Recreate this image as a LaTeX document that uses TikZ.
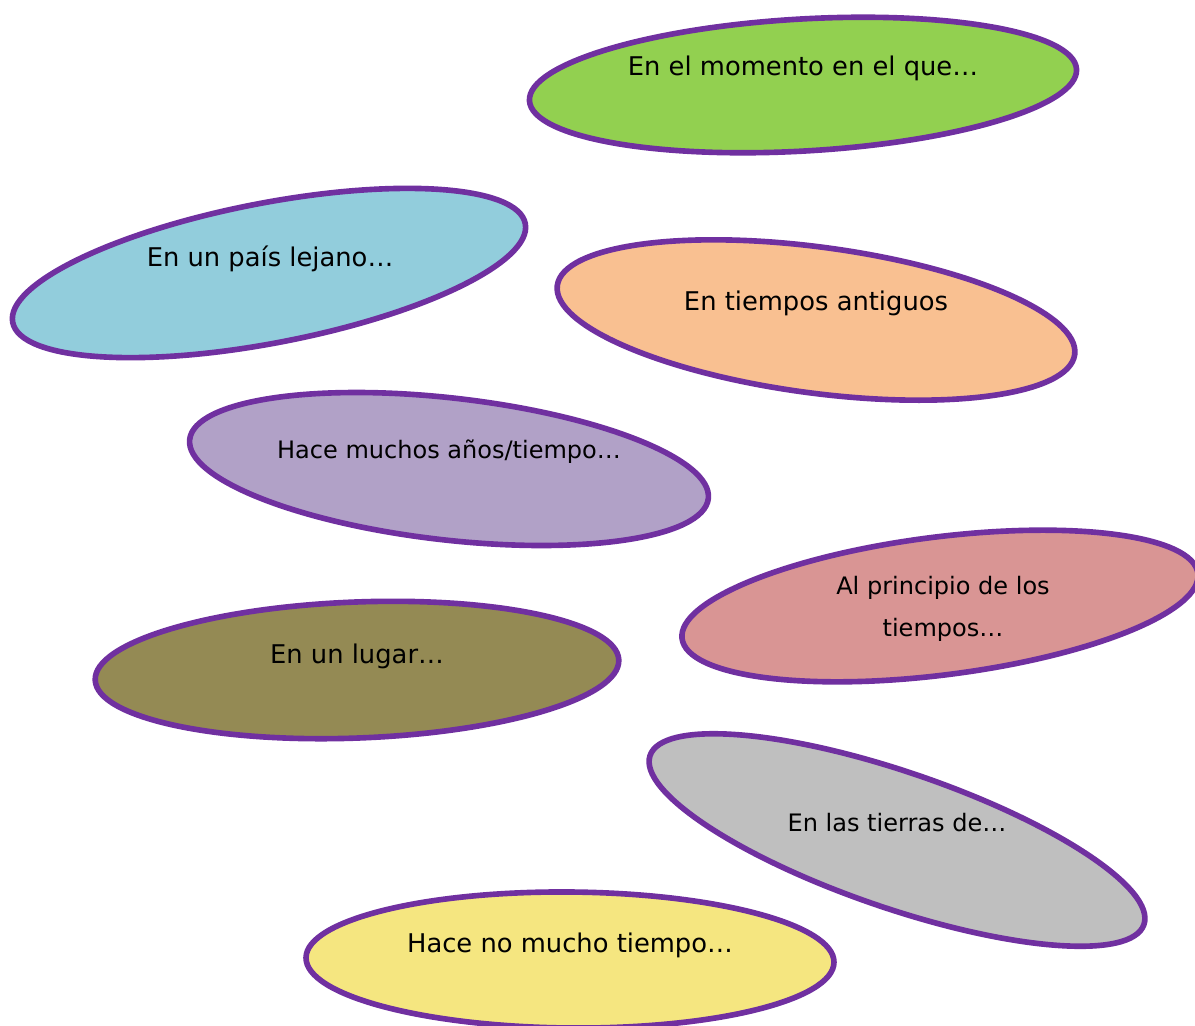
\documentclass[tikz,border=0pt]{standalone}
\usepackage{fontspec}
\setmainfont{DejaVu Sans}
\definecolor{outl}{HTML}{7030A0}
\definecolor{cgreen}{HTML}{92D050}
\definecolor{cblue}{HTML}{92CDDC}
\definecolor{corange}{HTML}{F9C091}
\definecolor{clav}{HTML}{B1A1C7}
\definecolor{cpink}{HTML}{D99594}
\definecolor{colive}{HTML}{948A54}
\definecolor{cgray}{HTML}{BFBFBF}
\definecolor{cyellow}{HTML}{F5E680}
\begin{document}
\begin{tikzpicture}[x=0.03cm,y=-0.03cm,
  blob/.style={draw=outl,line width=4.8pt},
  lbl/.style={font=\fontsize{22}{26}\selectfont,text=black,inner sep=0pt,align=center},
  lbls/.style={font=\fontsize{20.5}{36}\selectfont,text=black,inner sep=0pt,align=center}]
\clip (0,0) rectangle (1195,1025);
\useasboundingbox (0,0) rectangle (1195,1025);
\fill[white] (0,0) rectangle (1195,1025);
% ellipses
\filldraw[blob,fill=cgreen]  (803,85)  [rotate around={3.3:(803,85)}]   ellipse [x radius=274, y radius=66];
\filldraw[blob,fill=cblue]   (269,273) [rotate around={10.9:(269,273)}]  ellipse [x radius=261, y radius=70];
\filldraw[blob,fill=corange] (816,320) [rotate around={-7.6:(816,320)}]  ellipse [x radius=261, y radius=73];
\filldraw[blob,fill=clav]    (449,469) [rotate around={-6.5:(449,469)}]  ellipse [x radius=261, y radius=71];
\filldraw[blob,fill=cpink]   (940,606) [rotate around={7.2:(940,606)}]   ellipse [x radius=260, y radius=69];
\filldraw[blob,fill=colive]  (357,670) [rotate around={2.2:(357,670)}]   ellipse [x radius=262, y radius=68];
\filldraw[blob,fill=cgray]   (897,840) [rotate around={-18.9:(897,840)}] ellipse [x radius=261, y radius=68];
\filldraw[blob,fill=cyellow] (570,960) [rotate around={-0.5:(570,960)}]  ellipse [x radius=264, y radius=68];
% labels
\node[lbl]  (t1) at (803,68)  {En el momento en el que…};
\node[lbl]  (t2) at (270,259) {En un país lejano…};
\node[lbl]  (t3) at (816,303) {En tiempos antiguos};
\node[lbls] (t4) at (449,452) {Hace muchos años/tiempo…};
\node[lbls] (t5) at (943,609) {Al principio de los\\tiempos…};
\node[lbl]  (t6) at (357,656) {En un lugar…};
\node[lbls] (t7) at (897,823) {En las tierras de…};
\node[lbl]  (t8) at (570,945) {Hace no mucho tiempo…};
\end{tikzpicture}
\end{document}
